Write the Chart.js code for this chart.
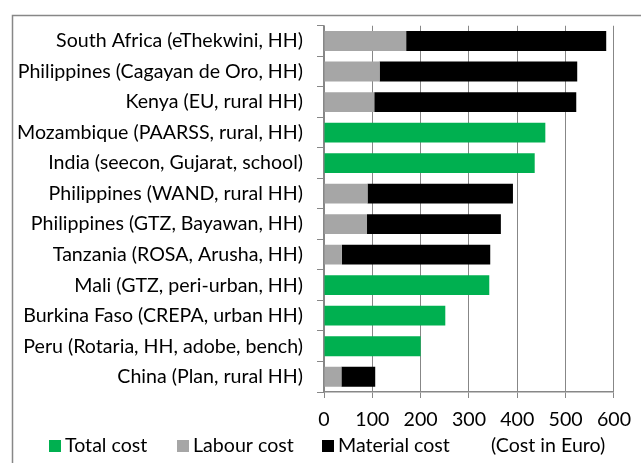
<!DOCTYPE html>
<html>
<head>
<meta charset="utf-8">
<script src="https://cdn.jsdelivr.net/npm/chart.js@4/dist/chart.umd.min.js"></script>
<style>
  html, body { margin: 0; padding: 0; background: #fff; }
  #wrap { width: 641px; height: 463px; }
</style>
</head>
<body>
<div id="wrap"><canvas id="costChart"></canvas></div>
<script>
const projects = [
    'South Africa (eThekwini, HH)',
    'Philippines (Cagayan de Oro, HH)',
    'Kenya (EU, rural HH)',
    'Mozambique (PAARSS, rural, HH)',
    'India (seecon, Gujarat, school)',
    'Philippines (WAND, rural HH)',
    'Philippines (GTZ, Bayawan, HH)',
    'Tanzania (ROSA, Arusha, HH)',
    'Mali (GTZ, peri-urban, HH)',
    'Burkina Faso (CREPA, urban HH)',
    'Peru (Rotaria, HH, adobe, bench)',
    'China (Plan, rural HH)'
];
const totalCost    = [null, null, null, 458, 436, null, null, null, 342, 251, 200, null];
const labourCost   = [170, 115, 104, null, null, 90, 89, 37, null, null, null, 36];
const materialCost = [414, 409, 418, null, null, 301, 277, 307, null, null, null, 70];
const xMin = 0, xMax = 600, xStep = 100;
const unitNote = '(Cost in Euro)';

const FONT = 'Lato';
const FONT_SIZE = 19.6;
const gridGray = '#878787';

// outer frame of the chart, cut off at right and bottom in the original
const framePlugin = {
    id: 'frame',
    beforeDraw(chart) {
        const ctx = chart.ctx;
        ctx.save();
        ctx.strokeStyle = gridGray;
        ctx.lineWidth = 1.5;
        ctx.strokeRect(12.5, 15.5, 700, 500);
        ctx.restore();
    }
};

// legend row incl. the unit note
const legendPlugin = {
    id: 'costLegend',
    afterDraw(chart) {
        const ctx = chart.ctx;
        const boxX = [49, 177, 322];
        const y = 446;
        ctx.save();
        ctx.font = FONT_SIZE + 'px ' + FONT;
        ctx.textBaseline = 'middle';
        chart.data.datasets.forEach((ds, i) => {
            ctx.fillStyle = ds.backgroundColor;
            ctx.fillRect(boxX[i], y - 6, 12, 12);
            ctx.fillStyle = '#000';
            ctx.fillText(ds.label, boxX[i] + 16, y);
        });
        ctx.fillText(unitNote, 491, y);
        ctx.restore();
    }
};

new Chart(document.getElementById('costChart'), {
    type: 'bar',
    data: {
        labels: projects,
        datasets: [{
            label: 'Total cost',
            data: totalCost,
            backgroundColor: '#00B050'
        }, {
            label: 'Labour cost',
            data: labourCost,
            backgroundColor: '#A6A6A6'
        }, {
            label: 'Material cost',
            data: materialCost,
            backgroundColor: '#000000'
        }]
    },
    options: {
        indexAxis: 'y',
        responsive: true,
        maintainAspectRatio: false,
        animation: false,
        datasets: {
            bar: {
                barPercentage: 0.65,
                categoryPercentage: 1,
                borderWidth: 0
            }
        },
        layout: {
            padding: { left: 14, right: 27, top: 20, bottom: 0 }
        },
        plugins: {
            legend: { display: false },
            tooltip: { enabled: false }
        },
        scales: {
            x: {
                stacked: true,
                min: xMin,
                max: xMax,
                ticks: {
                    stepSize: xStep,
                    color: '#000',
                    padding: 10,
                    maxRotation: 0,
                    font: { family: FONT, size: FONT_SIZE }
                },
                grid: {
                    color: gridGray,
                    lineWidth: 1,
                    tickLength: 6
                },
                border: { color: gridGray, width: 1.5 },
                afterFit(scale) { scale.height = 71; }
            },
            y: {
                stacked: true,
                ticks: {
                    color: '#000',
                    padding: 14,
                    font: { family: FONT, size: FONT_SIZE }
                },
                grid: {
                    offset: true,
                    drawOnChartArea: false,
                    color: gridGray,
                    tickLength: 7
                },
                border: { color: gridGray, width: 1.5 },
                afterFit(scale) { scale.width = 310; }
            }
        }
    },
    plugins: [framePlugin, legendPlugin]
});
</script>
</body>
</html>
